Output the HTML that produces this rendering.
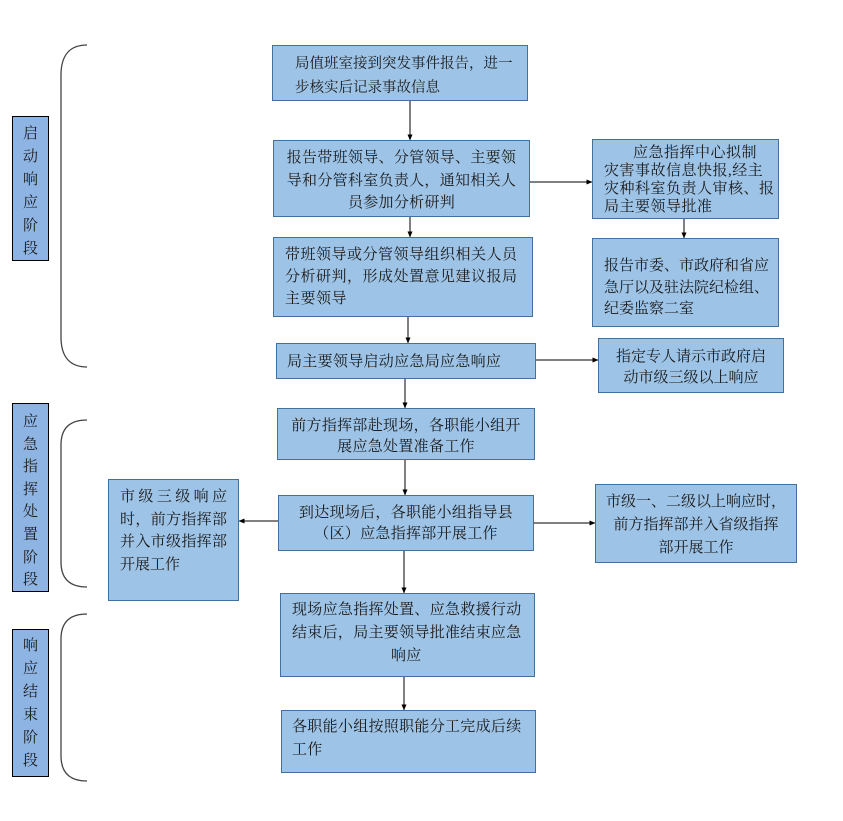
<!DOCTYPE html>
<html><head><meta charset="utf-8">
<style>
html,body{margin:0;padding:0;background:#fff;}
body{width:843px;height:821px;position:relative;overflow:hidden;font-family:"Liberation Serif","Noto Serif CJK SC",serif;color:#1a1a1a;}
.b{position:absolute;box-sizing:border-box;background:#9dc3e6;border:1.5px solid #41719c;font-size:15px;white-space:nowrap;}
.s{position:absolute;box-sizing:border-box;background:#8eb4e3;border:1.5px solid #000;font-size:15px;text-align:center;line-height:23px;}
.l{display:block;}
svg{position:absolute;left:0;top:0;}
</style></head><body>
<svg width="843" height="821" viewBox="0 0 843 821">
<defs>
<marker id="a" markerWidth="6" markerHeight="6" refX="5.5" refY="3" orient="auto" markerUnits="userSpaceOnUse">
<path d="M0,0.5 L6,3 L0,5.5 Z" fill="#000"/>
</marker>
</defs>
<g fill="none" stroke="#444" stroke-width="1.3">
<path d="M87,45 C70,45 61,55 61,75 L61,337 C61,357 70,367 87,367"/>
<path d="M87,420 C70,420 61,428 61,445 L61,562 C61,579 70,587 87,587"/>
<path d="M87,614 C70,614 61,622 61,639 L61,756 C61,773 70,781 87,781"/>
</g>
<g stroke="#000" stroke-width="1" fill="none" marker-end="url(#a)">
<line x1="410" y1="101" x2="410" y2="140"/>
<line x1="410" y1="217" x2="410" y2="237"/>
<line x1="408" y1="317" x2="408" y2="343"/>
<line x1="405" y1="379" x2="405" y2="408"/>
<line x1="405" y1="460" x2="405" y2="495"/>
<line x1="404" y1="551" x2="404" y2="593"/>
<line x1="404" y1="677" x2="404" y2="710"/>
<line x1="530" y1="182" x2="592" y2="182"/>
<line x1="684" y1="219" x2="684" y2="238"/>
<line x1="536" y1="360" x2="598" y2="360"/>
<line x1="534" y1="523" x2="595" y2="523"/>
<line x1="278" y1="521" x2="239" y2="521"/>
</g>
</svg>

<div class="s" style="left:12px;top:116px;width:37px;height:145px;padding-top:6px;">启<br>动<br>响<br>应<br>阶<br>段</div>
<div class="s" style="left:12px;top:403px;width:37px;height:189px;padding-top:7px;line-height:22.6px;">应<br>急<br>指<br>挥<br>处<br>置<br>阶<br>段</div>
<div class="s" style="left:12px;top:629px;width:37px;height:148px;padding-top:5px;">响<br>应<br>结<br>束<br>阶<br>段</div>

<div class="b" style="left:272px;top:45px;width:256px;height:56px;padding:6px 0 0 22px;line-height:24px;font-size:14.5px;">局值班室接到突发事件报告，进一<br>步核实后记录事故信息</div>

<div class="b" style="left:273px;top:140px;width:257px;height:77px;padding-top:6px;line-height:22.5px;text-align:center;letter-spacing:0.3px;">报告带班领导、分管领导、主要领<br>导和分管科室负责人，通知相关人<br>员参加分析研判</div>

<div class="b" style="left:273px;top:237px;width:260px;height:80px;padding:6px 0 0 11px;line-height:22px;letter-spacing:0.5px;">带班领导或分管领导组织相关人员<br>分析研判，形成处置意见建议报局<br>主要领导</div>

<div class="b" style="left:276px;top:343px;width:260px;height:36px;padding:7px 0 0 10px;line-height:22px;letter-spacing:0.3px;">局主要领导启动应急局应急响应</div>

<div class="b" style="left:277px;top:408px;width:258px;height:52px;padding-top:7px;line-height:21px;text-align:center;letter-spacing:0.3px;">前方指挥部赴现场，各职能小组开<br>展应急处置准备工作</div>

<div class="b" style="left:278px;top:495px;width:256px;height:56px;padding-top:6.5px;line-height:21px;text-align:center;letter-spacing:0.3px;">到达现场后，各职能小组指导县<br>（区）应急指挥部开展工作</div>

<div class="b" style="left:280px;top:593px;width:255px;height:84px;padding:5px 0 0 11px;line-height:23px;letter-spacing:0.3px;"><span class="l">现场应急指挥处置、应急救援行动</span><span class="l">结束后，局主要领导批准结束应急</span><span class="l" style="padding-left:99px;">响应</span></div>

<div class="b" style="left:281px;top:710px;width:255px;height:63px;padding:4.5px 0 0 10px;line-height:23px;letter-spacing:0.3px;">各职能小组按照职能分工完成后续<br>工作</div>

<div class="b" style="left:592px;top:139px;width:187px;height:80px;padding:4px 0 0 11px;line-height:18px;letter-spacing:0.5px;"><span class="l" style="padding-left:29px;">应急指挥中心拟制</span><span class="l">灾害事故信息快报,经主</span><span class="l">灾种科室负责人审核、报</span><span class="l">局主要领导批准</span></div>

<div class="b" style="left:592px;top:238px;width:187px;height:89px;padding:17px 0 0 11px;line-height:21.5px;">报告市委、市政府和省应<br>急厅以及驻法院纪检组、<br>纪委监察二室</div>

<div class="b" style="left:598px;top:338px;width:186px;height:55px;padding-top:8px;line-height:21px;text-align:center;">指定专人请示市政府启<br>动市级三级以上响应</div>

<div class="b" style="left:595px;top:484px;width:202px;height:79px;padding-top:6px;line-height:23px;text-align:center;">市级一、二级以上响应时，<br>前方指挥部并入省级指挥<br>部开展工作</div>

<div class="b" style="left:108px;top:479px;width:131px;height:122px;padding:6px 11px 0 11px;line-height:22.5px;white-space:normal;"><span class="l" style="text-align:justify;text-align-last:justify;">市级三级响应</span><span class="l" style="text-align:justify;text-align-last:justify;">时，前方指挥部</span><span class="l" style="text-align:justify;text-align-last:justify;">并入市级指挥部</span><span class="l">开展工作</span></div>
</body></html>
